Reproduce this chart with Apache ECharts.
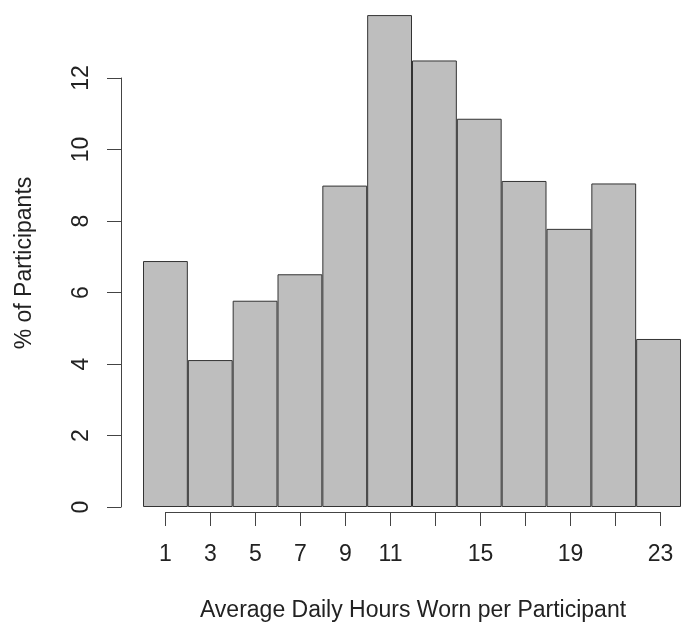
<!DOCTYPE html>
<html>
<head>
<meta charset="utf-8">
<script src="https://cdn.jsdelivr.net/npm/echarts@6/dist/echarts.min.js"></script>
<style>html,body{margin:0;padding:0;background:#fff}#c{width:681px;height:630px}</style>
</head>
<body>
<div id="c"></div>
<script>
const categories = ['1','3','5','7','9','11','13','15','17','19','21','23'];
const values = [6.88, 4.11, 5.77, 6.51, 8.99, 13.76, 12.49, 10.86, 9.12, 7.78, 9.05, 4.70];
const shownXLabels = ['1','3','5','7','9','11','15','19','23'];
const yTicks = { min: 0, max: 12, interval: 2 };
const xTitle = 'Average Daily Hours Worn per Participant';
const yTitle = '% of Participants';

const FONT = '"Liberation Sans", Arial, Helvetica, sans-serif';
const FS = 23;
const chart = echarts.init(document.getElementById('c'), null, { renderer: 'canvas' });
chart.setOption({
  animation: false,
  backgroundColor: '#ffffff',
  textStyle: { fontFamily: FONT },
  grid: [
    { left: 143, width: 540, top: 6.5, bottom: 123 },
    { left: 121, width: 10, top: 78, bottom: 123 },
    { left: 165.5, width: 495, top: 480, bottom: 118 }
  ],
  xAxis: [
    { gridIndex: 0, type: 'category', data: categories, show: false },
    { gridIndex: 1, type: 'value', show: false },
    { gridIndex: 2, type: 'category', data: categories, boundaryGap: false,
      axisLine: { show: true, lineStyle: { color: '#444', width: 1 } },
      axisTick: { show: true, length: 14, lineStyle: { color: '#444', width: 1 } },
      axisLabel: { show: true, interval: 0, margin: 31, color: '#222', fontSize: FS, fontFamily: FONT,
        formatter: v => shownXLabels.indexOf(v) >= 0 ? v : '' },
      splitLine: { show: false } }
  ],
  yAxis: [
    { gridIndex: 0, type: 'value', min: 0, max: 14, show: false },
    { gridIndex: 1, type: 'value', min: yTicks.min, max: yTicks.max, interval: yTicks.interval,
      axisLine: { show: true, lineStyle: { color: '#444', width: 1 } },
      axisTick: { show: true, length: 14, lineStyle: { color: '#444', width: 1 } },
      axisLabel: { show: true, rotate: 90, margin: 28, color: '#222', fontSize: FS, fontFamily: FONT },
      splitLine: { show: false } },
    { gridIndex: 2, type: 'value', show: false }
  ],
  series: [{
    type: 'bar', xAxisIndex: 0, yAxisIndex: 0, data: values,
    barWidth: '100%', barCategoryGap: '0%',
    itemStyle: { color: '#bebebe', borderColor: '#333', borderWidth: 1 }
  }],
  graphic: [
    { type: 'text', x: 413, y: 611, style: { text: xTitle, font: FS + 'px ' + FONT, fill: '#222', align: 'center', verticalAlign: 'middle' }, z: 10 },
    { type: 'text', x: 25, y: 263, rotation: Math.PI / 2,
      style: { text: yTitle, font: FS + 'px ' + FONT, fill: '#222', align: 'center', verticalAlign: 'middle' } }
  ]
});
</script>
</body>
</html>
